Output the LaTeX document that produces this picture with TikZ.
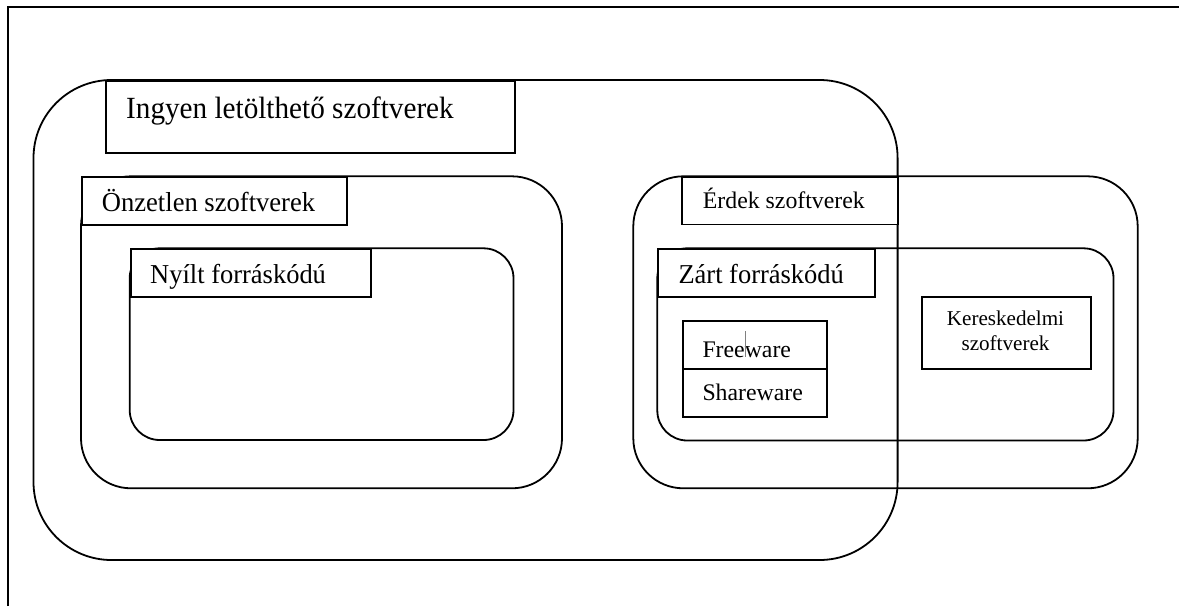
\documentclass[tikz,border=0pt]{standalone}
\usepackage{fontspec}
\usepackage{graphicx}
\setmainfont{Liberation Serif}
\tikzset{
  ln/.style={draw=black, line width=1.8pt},
  lbox/.style={ln, fill=white, rectangle, inner sep=0pt, anchor=north west},
  txt/.style={inner sep=0pt, anchor=base west, text=black},
}
\newcommand{\fsz}[1]{\fontsize{#1pt}{#1pt}\selectfont}
\newcommand{\cond}[2]{\scalebox{#1}[1]{#2}}
\begin{document}
\begin{tikzpicture}[x=1pt,y=-1pt]
\useasboundingbox (0,0) rectangle (1179,606);
\fill[white] (0,0) rectangle (1179,606);
% page frame (top and left edges)
\draw[line width=1.8pt] (7.8,606) -- (7.8,6.8) -- (1179,6.8);
% containers
\draw[ln, rounded corners=78pt] (33.5,80) rectangle (897.6,560);
\draw[ln, rounded corners=50pt] (81,176.3) rectangle (562,488.3);
\draw[ln, rounded corners=30pt] (129.7,248.3) rectangle (513.5,440);
\draw[ln, rounded corners=50pt] (633.3,176.3) rectangle (1137.7,488.3);
\draw[ln, rounded corners=30pt] (657.3,248.3) rectangle (1113.5,440.5);
% label boxes
\node[lbox, minimum width=409pt, minimum height=71.7pt] (ingL) at (105.3,80) {};
\node[lbox, minimum width=264.7pt, minimum height=47.7pt] (onzL) at (81,176.3) {};
\node[lbox, minimum width=240pt, minimum height=47.4pt] (nyiL) at (129.7,248.3) {};
\node[lbox, minimum width=216.3pt, minimum height=47.3pt] (erdL) at (681,176.3) {};
\node[lbox, minimum width=216.7pt, minimum height=47.4pt] (zarL) at (657.3,248.3) {};
\node[lbox, minimum width=144pt, minimum height=48pt] (freeB) at (681.7,320) {};
\node[lbox, minimum width=144pt, minimum height=48pt] (shareB) at (681.7,368) {};
\node[lbox, minimum width=169pt, minimum height=72.3pt] (kerB) at (921,295.7) {};
% texts
\node[txt] (ingT) at (126,118.3) {\fsz{30.8}\cond{0.948}{Ingyen letölthető szoftverek}};
\node[txt] (onzT) at (101.7,211.7) {\fsz{27.4}\cond{0.97}{Önzetlen szoftverek}};
\node[txt] (nyiT) at (150,283.3) {\fsz{27.3}\cond{0.97}{Nyílt forráskódú}};
\node[txt] (erdT) at (702.7,208.3) {\fsz{23.8}Érdek szoftverek};
\node[txt] (zarT) at (678.3,283.3) {\fsz{27.3}\cond{0.97}{Zárt forráskódú}};
\node[txt] (freeT) at (702.3,357.3) {\fsz{23.8}Freeware};
\node[txt] (shareT) at (702.3,400.7) {\fsz{23.8}Shareware};
\node[txt, anchor=base] (kerT1) at (1005.5,325.7) {\fsz{21.1}Kereskedelmi};
\node[txt, anchor=base] (kerT2) at (1005.5,350.7) {\fsz{21.1}szoftverek};
% text cursor mark
\coordinate (curA) at (745,331);
\coordinate (curB) at (745,357);
\draw[gray, line width=0.8pt] (curA) -- (curB);
\end{tikzpicture}
\end{document}
